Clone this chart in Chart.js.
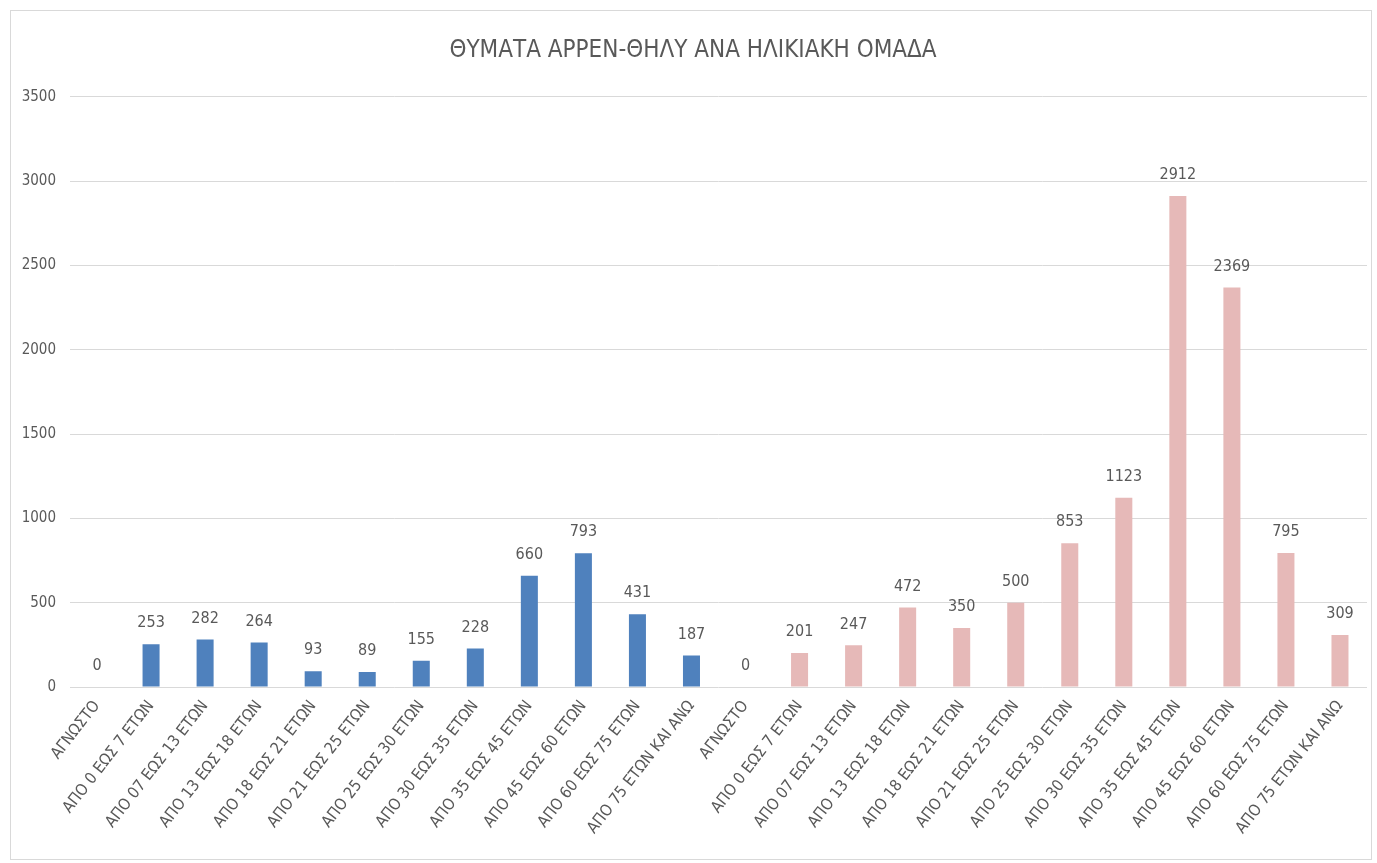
<!DOCTYPE html>
<html>
<head>
<meta charset="utf-8">
<script src="https://cdn.jsdelivr.net/npm/chart.js@4/dist/chart.umd.min.js"></script>
<style>
  body { margin: 0; background: #fff; }
  #box {
    position: absolute; left: 10px; top: 10px;
    width: 1362px; height: 850px;
    border: 1px solid #d9d9d9; box-sizing: border-box;
  }
  #chart { display: block; }
</style>
</head>
<body>
<div id="box"><canvas id="chart" width="1360" height="848"></canvas></div>
<script>
// Категории (одинаковые для обеих групп)
const ageGroups = [
  'ΑΓΝΩΣΤΟ', 'ΑΠΟ 0 ΕΩΣ 7 ΕΤΩΝ', 'ΑΠΟ 07 ΕΩΣ 13 ΕΤΩΝ', 'ΑΠΟ 13 ΕΩΣ 18 ΕΤΩΝ',
  'ΑΠΟ 18 ΕΩΣ 21 ΕΤΩΝ', 'ΑΠΟ 21 ΕΩΣ 25 ΕΤΩΝ', 'ΑΠΟ 25 ΕΩΣ 30 ΕΤΩΝ', 'ΑΠΟ 30 ΕΩΣ 35 ΕΤΩΝ',
  'ΑΠΟ 35 ΕΩΣ 45 ΕΤΩΝ', 'ΑΠΟ 45 ΕΩΣ 60 ΕΤΩΝ', 'ΑΠΟ 60 ΕΩΣ 75 ΕΤΩΝ', 'ΑΠΟ 75 ΕΤΩΝ ΚΑΙ ΑΝΩ'
];
const maleValues = [0, 253, 282, 264, 93, 89, 155, 228, 660, 793, 431, 187];
const femaleValues = [0, 201, 247, 472, 350, 500, 853, 1123, 2912, 2369, 795, 309];
const yTicks = [0, 500, 1000, 1500, 2000, 2500, 3000, 3500];

const maleColor = '#4f81bd';
const femaleColor = '#e6b9b8';
const textColor = '#595959';
const fontFamily = "'DejaVu Sans Condensed', 'Liberation Sans Narrow', 'Noto Sans', sans-serif";

const labels = ageGroups.concat(ageGroups);
const values = maleValues.concat(femaleValues);
const colors = maleValues.map(() => maleColor).concat(femaleValues.map(() => femaleColor));

// Подписи значений над столбцами
const valueLabels = {
  id: 'valueLabels',
  afterDatasetsDraw(chart) {
    const ctx = chart.ctx;
    const meta = chart.getDatasetMeta(0);
    ctx.save();
    ctx.font = '16px ' + fontFamily;
    ctx.fillStyle = textColor;
    ctx.textAlign = 'center';
    ctx.textBaseline = 'middle';
    meta.data.forEach((bar, i) => {
      ctx.fillText(String(values[i]), bar.x, bar.y - 21);
    });
    ctx.restore();
  }
};

new Chart(document.getElementById('chart'), {
  type: 'bar',
  data: {
    labels: labels,
    datasets: [{
      data: values,
      backgroundColor: colors,
      categoryPercentage: 0.35,
      barPercentage: 0.9
    }]
  },
  options: {
    responsive: false,
    animation: false,
    layout: { padding: { left: 8, right: 4, top: 0, bottom: 0 } },
    plugins: {
      legend: { display: false },
      tooltip: { enabled: false },
      title: {
        display: true,
        text: 'ΘΥΜΑΤΑ ΑΡΡΕΝ-ΘΗΛΥ ΑΝΑ ΗΛΙΚΙΑΚΗ ΟΜΑΔΑ',
        color: textColor,
        font: { family: fontFamily, size: 24, weight: 'normal' },
        padding: { top: 25, bottom: 32 }
      }
    },
    scales: {
      x: {
        grid: { display: false, drawTicks: false },
        border: { display: false },
        ticks: {
          color: textColor,
          font: { family: fontFamily, size: 16 },
          minRotation: 52,
          maxRotation: 52,
          autoSkip: false,
          padding: 10
        },
        afterFit: scale => { scale.height = 172; }
      },
      y: {
        min: 0,
        max: 3500,
        afterBuildTicks: scale => { scale.ticks = yTicks.map(v => ({ value: v })); },
        grid: { color: '#d9d9d9', drawTicks: false },
        border: { display: false },
        ticks: {
          color: textColor,
          font: { family: fontFamily, size: 15 },
          padding: 14,
          callback: v => String(v)
        },
        afterFit: scale => { scale.width = 51; }
      }
    }
  },
  plugins: [valueLabels]
});
</script>
</body>
</html>
